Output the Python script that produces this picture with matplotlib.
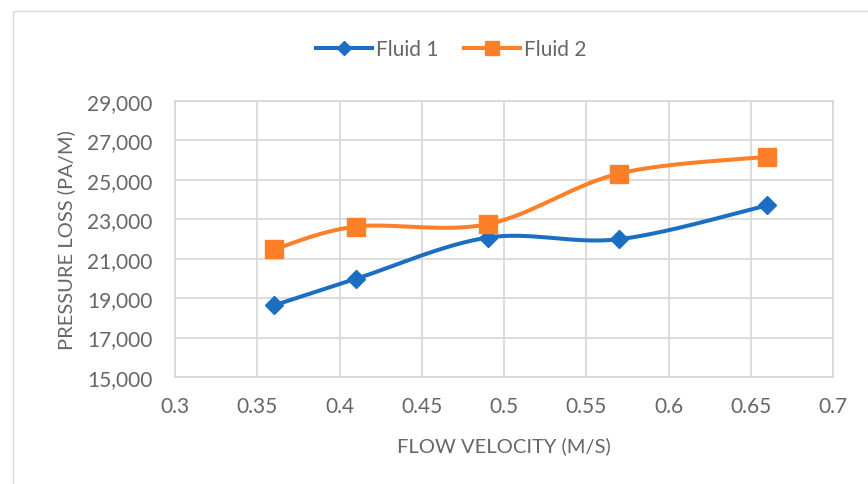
import matplotlib
matplotlib.use("Agg")
import matplotlib.pyplot as plt
from matplotlib.lines import Line2D
from matplotlib.patches import Rectangle
import numpy as np

# flow velocity (m/s) and measured pressure loss (Pa/m)
velocity = [0.36, 0.41, 0.49, 0.57, 0.66]
fluid1 = [18630, 19980, 22070, 21990, 23710]
fluid2 = [21470, 22630, 22750, 25320, 26170]
series_names = ["Fluid 1", "Fluid 2"]
xticks = [0.3, 0.35, 0.4, 0.45, 0.5, 0.55, 0.6, 0.65, 0.7]
yticks = [15000, 17000, 19000, 21000, 23000, 25000, 27000, 29000]

blue = "#1b6ec2"
orange = "#fd7f28"
text_gray = "#666666"
grid_gray = "#d9d9d9"

plt.rcParams["font.family"] = ["Lato", "DejaVu Sans"]


def smooth(xs, ys, n=40):
    # catmull-rom style bezier through every point, like a spreadsheet "smoothed line"
    p = np.column_stack([xs, ys]).astype(float)
    ext = np.vstack([p[0], p, p[-1]])
    out = []
    for i in range(len(p) - 1):
        p0, p3 = p[i], p[i + 1]
        c1 = p0 + (ext[i + 2] - ext[i]) / 6
        c2 = p3 - (ext[i + 3] - ext[i + 1]) / 6
        t = np.linspace(0, 1, n)[:, None]
        seg = ((1 - t) ** 3) * p0 + 3 * ((1 - t) ** 2) * t * c1 + 3 * (1 - t) * t ** 2 * c2 + t ** 3 * p3
        out.append(seg if i == 0 else seg[1:])
    out = np.vstack(out)
    return out[:, 0], out[:, 1]


fig = plt.figure(figsize=(8.68, 4.85), dpi=100)
fig.patches.append(Rectangle((13 / 868, -0.1), 1.2, 1.1 - 12 / 485, transform=fig.transFigure,
                             fill=False, edgecolor=grid_gray, lw=1))
ax = fig.add_axes([175 / 868, 1 - 378 / 485, 658 / 868, 276 / 485])

for ys, col, mk, ms in [(fluid1, blue, "D", 9.3), (fluid2, orange, "s", 12.5)]:
    sx, sy = smooth(velocity, ys)
    ax.plot(sx, sy, color=col, lw=2.9, solid_capstyle="round", zorder=3)
    ax.plot(velocity, ys, ls="none", marker=mk, ms=ms, color=col, zorder=4)

ax.set_xlim(0.3, 0.7)
ax.set_ylim(15000, 29000)
ax.set_xticks(xticks)
ax.set_xticklabels([f"{v:g}" for v in xticks])
ax.set_yticks(yticks)
ax.set_yticklabels([f"{v:,}" for v in yticks])
ax.grid(True, color=grid_gray, lw=1.3)
ax.set_axisbelow(True)
for s in ax.spines.values():
    s.set_color(grid_gray)
    s.set_linewidth(1.3)
ax.tick_params(length=0, labelsize=15, labelcolor=text_gray)
ax.tick_params(axis="x", pad=14)
ax.tick_params(axis="y", pad=16)

ax.set_xlabel("FLOW VELOCITY (M/S)", fontsize=14.5, color=text_gray, labelpad=14)
ax.set_ylabel("PRESSURE LOSS (PA/M)", fontsize=14.5, color=text_gray, labelpad=9)

handles = [Line2D([], [], color=blue, lw=2.9, marker="D", ms=7),
           Line2D([], [], color=orange, lw=2.9, marker="s", ms=9.5)]
fig.legend(handles, series_names, loc="center", bbox_to_anchor=(451 / 868, 1 - 50 / 485), ncol=2,
           frameon=False, fontsize=15, labelcolor=text_gray, handlelength=2.7,
           handletextpad=0.2, columnspacing=1.2)

fig.savefig("out.png", dpi=100)
